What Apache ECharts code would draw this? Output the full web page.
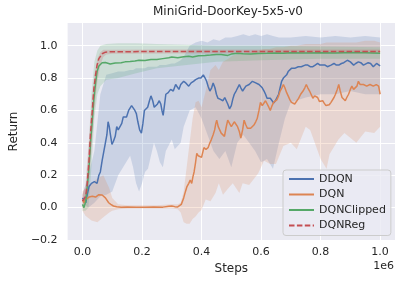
<!DOCTYPE html>
<html><head><meta charset="utf-8">
<script src="https://cdn.jsdelivr.net/npm/echarts@6/dist/echarts.min.js"></script>
<style>html,body{margin:0;padding:0;background:#fff}#c{width:408px;height:284px}</style>
</head><body><div id="c"></div>
<script>
// ---- Data (steps in units of 1e6) ----
const titleText = 'MiniGrid-DoorKey-5x5-v0';
const seriesNames = ['DDQN', 'DQN', 'DQNClipped', 'DQNReg'];
const xTicks = [0, 0.2, 0.4, 0.6, 0.8, 1.0];
const yTicks = [-0.2, 0, 0.2, 0.4, 0.6, 0.8, 1.0];

const ddqnX = [0,0.006,0.011,0.016,0.022,0.03,0.04,0.049,0.055,0.06,0.066,0.072,0.077,0.082,0.086,0.09,0.093,0.099,0.104,0.11,0.115,0.12,0.126,0.132,0.137,0.143,0.148,0.155,0.16,0.165,0.17,0.176,0.181,0.186,0.192,0.198,0.203,0.208,0.214,0.219,0.225,0.23,0.236,0.241,0.247,0.252,0.258,0.263,0.267,0.271,0.276,0.28,0.288,0.296,0.305,0.313,0.318,0.324,0.33,0.34,0.347,0.357,0.365,0.373,0.38,0.39,0.398,0.406,0.412,0.417,0.422,0.428,0.434,0.439,0.445,0.45,0.455,0.462,0.466,0.472,0.478,0.483,0.488,0.494,0.5,0.505,0.51,0.516,0.521,0.527,0.532,0.538,0.543,0.549,0.554,0.56,0.565,0.571,0.576,0.582,0.587,0.593,0.598,0.604,0.61,0.615,0.62,0.626,0.631,0.637,0.642,0.648,0.653,0.659,0.664,0.669,0.675,0.68,0.686,0.691,0.697,0.702,0.708,0.713,0.719,0.725,0.73,0.735,0.741,0.748,0.757,0.765,0.774,0.782,0.79,0.798,0.807,0.815,0.823,0.828,0.835,0.845,0.853,0.861,0.87,0.878,0.883,0.89,0.894,0.9,0.905,0.911,0.918,0.927,0.935,0.944,0.95,0.96,0.968,0.977,0.983,0.988,0.994,1.0];
const ddqnY = [0.06,0.05,0.03,0.08,0.13,0.15,0.16,0.15,0.2,0.22,0.29,0.35,0.40,0.45,0.53,0.5,0.46,0.39,0.41,0.44,0.5,0.48,0.47,0.52,0.56,0.55,0.56,0.6,0.61,0.63,0.62,0.6,0.58,0.53,0.48,0.46,0.52,0.6,0.6,0.62,0.66,0.69,0.66,0.62,0.63,0.64,0.66,0.64,0.6,0.57,0.64,0.70,0.71,0.73,0.72,0.76,0.75,0.73,0.76,0.78,0.77,0.75,0.77,0.78,0.79,0.80,0.80,0.82,0.80,0.78,0.75,0.72,0.74,0.77,0.74,0.70,0.675,0.67,0.66,0.66,0.68,0.675,0.64,0.61,0.63,0.67,0.70,0.72,0.73,0.76,0.74,0.72,0.73,0.75,0.75,0.76,0.77,0.78,0.78,0.77,0.76,0.76,0.75,0.74,0.72,0.70,0.675,0.68,0.675,0.66,0.645,0.66,0.66,0.70,0.74,0.78,0.80,0.81,0.82,0.84,0.85,0.86,0.85,0.86,0.86,0.87,0.86,0.87,0.87,0.88,0.88,0.87,0.87,0.88,0.89,0.88,0.88,0.88,0.87,0.86,0.88,0.89,0.88,0.88,0.89,0.895,0.90,0.91,0.915,0.90,0.89,0.88,0.89,0.90,0.895,0.88,0.89,0.895,0.89,0.87,0.88,0.89,0.88,0.875];

const dqnX = [0,0.005,0.01,0.016,0.022,0.033,0.044,0.05,0.055,0.06,0.066,0.072,0.077,0.083,0.088,0.095,0.104,0.115,0.13,0.15,0.18,0.21,0.24,0.27,0.29,0.3,0.31,0.32,0.326,0.332,0.34,0.346,0.351,0.357,0.362,0.367,0.371,0.375,0.38,0.384,0.389,0.395,0.4,0.404,0.408,0.415,0.422,0.428,0.433,0.439,0.444,0.448,0.451,0.456,0.461,0.466,0.472,0.477,0.482,0.488,0.494,0.5,0.505,0.51,0.516,0.521,0.527,0.532,0.538,0.543,0.549,0.554,0.56,0.565,0.571,0.576,0.582,0.587,0.593,0.598,0.604,0.609,0.615,0.62,0.626,0.631,0.637,0.642,0.648,0.653,0.659,0.664,0.67,0.675,0.68,0.686,0.691,0.697,0.702,0.708,0.713,0.719,0.726,0.733,0.741,0.747,0.752,0.757,0.763,0.768,0.774,0.78,0.785,0.79,0.796,0.801,0.807,0.812,0.818,0.823,0.829,0.835,0.84,0.845,0.85,0.856,0.861,0.866,0.872,0.877,0.883,0.888,0.894,0.9,0.905,0.911,0.916,0.922,0.927,0.933,0.938,0.944,0.949,0.955,0.96,0.966,0.971,0.977,0.982,0.987,0.991,0.995,1.0];
const dqnY = [0.05,0.03,0.05,0.06,0.065,0.07,0.065,0.075,0.08,0.075,0.078,0.07,0.06,0.05,0.03,0.02,0.01,0.005,0.002,0.004,0.003,0.002,0.004,0.003,0.008,0.01,0.006,0.004,0.008,0.02,0.06,0.1,0.13,0.15,0.17,0.15,0.19,0.22,0.28,0.335,0.32,0.33,0.31,0.30,0.37,0.36,0.37,0.40,0.42,0.45,0.48,0.52,0.54,0.50,0.48,0.46,0.47,0.44,0.49,0.54,0.52,0.50,0.51,0.53,0.53,0.50,0.47,0.43,0.48,0.54,0.51,0.49,0.50,0.49,0.50,0.51,0.53,0.55,0.60,0.65,0.63,0.64,0.66,0.65,0.62,0.60,0.63,0.65,0.64,0.665,0.69,0.72,0.74,0.76,0.74,0.71,0.69,0.665,0.65,0.64,0.64,0.63,0.675,0.70,0.72,0.74,0.76,0.74,0.72,0.70,0.675,0.69,0.70,0.68,0.655,0.66,0.66,0.645,0.63,0.64,0.635,0.65,0.66,0.68,0.70,0.73,0.76,0.72,0.68,0.67,0.66,0.68,0.70,0.73,0.75,0.73,0.72,0.75,0.78,0.76,0.75,0.76,0.765,0.75,0.74,0.76,0.77,0.75,0.74,0.76,0.77,0.75,0.70];

const clipX = [0,0.005,0.011,0.016,0.022,0.027,0.033,0.038,0.044,0.049,0.055,0.066,0.077,0.093,0.11,0.13,0.143,0.16,0.176,0.19,0.21,0.23,0.25,0.27,0.29,0.30,0.32,0.34,0.357,0.37,0.39,0.412,0.43,0.45,0.466,0.488,0.5,0.521,0.54,0.565,0.59,0.62,0.65,0.675,0.7,0.75,0.8,0.85,0.9,0.95,1.0];
const clipY = [0.02,0.0,0.04,0.13,0.25,0.40,0.54,0.665,0.77,0.84,0.875,0.895,0.896,0.887,0.893,0.895,0.9,0.902,0.905,0.91,0.908,0.915,0.915,0.92,0.925,0.93,0.925,0.932,0.935,0.93,0.938,0.94,0.942,0.945,0.945,0.94,0.948,0.953,0.95,0.948,0.952,0.953,0.955,0.953,0.956,0.955,0.957,0.955,0.958,0.956,0.953];

const regX = [0,0.005,0.011,0.016,0.022,0.027,0.033,0.038,0.044,0.049,0.055,0.066,0.077,0.1,0.15,0.3,0.5,0.7,1.0];
const regY = [0.04,0.03,0.07,0.15,0.29,0.46,0.60,0.73,0.82,0.88,0.92,0.95,0.96,0.963,0.963,0.964,0.964,0.964,0.964];

// shaded bands (mean ± spread)
const ddqnBandX = [0,0.02,0.04,0.06,0.08,0.1,0.12,0.14,0.16,0.17,0.18,0.19,0.2,0.21,0.22,0.24,0.25,0.26,0.27,0.28,0.3,0.31,0.33,0.34,0.36,0.38,0.4,0.42,0.44,0.46,0.48,0.5,0.52,0.54,0.56,0.58,0.6,0.62,0.64,0.66,0.68,0.7,0.75,0.8,0.85,0.9,0.95,1.0];
const ddqnHigh = [0.08,0.2,0.35,0.7,0.82,0.83,0.84,0.84,0.85,0.85,0.86,0.86,0.86,0.86,0.87,0.87,0.87,0.88,0.88,0.88,0.89,0.89,0.91,0.93,1.0,1.02,1.03,1.02,1.04,1.03,1.05,1.05,1.06,1.07,1.06,1.07,1.06,1.07,1.06,1.05,1.05,1.05,1.06,1.05,1.06,1.05,1.06,1.05];
const ddqnLow = [0.03,0.0,0.03,0.07,0.08,0.1,0.2,0.26,0.32,0.25,0.15,0.1,0.15,0.22,0.24,0.4,0.35,0.28,0.25,0.35,0.42,0.36,0.4,0.5,0.6,0.62,0.55,0.45,0.35,0.3,0.35,0.25,0.4,0.45,0.4,0.35,0.28,0.3,0.24,0.4,0.55,0.65,0.68,0.7,0.7,0.72,0.7,0.7];

const dqnBandX = [0,0.01,0.03,0.05,0.07,0.09,0.1,0.12,0.15,0.2,0.25,0.3,0.32,0.33,0.34,0.35,0.36,0.37,0.38,0.39,0.4,0.414,0.43,0.447,0.458,0.472,0.49,0.505,0.527,0.538,0.56,0.59,0.61,0.63,0.65,0.675,0.7,0.72,0.75,0.765,0.8,0.82,0.83,0.86,0.88,0.92,0.95,0.98,1.0];
const dqnHigh = [0.1,0.12,0.15,0.18,0.2,0.12,0.06,0.02,0.015,0.015,0.015,0.02,0.02,0.03,0.1,0.25,0.4,0.55,0.65,0.66,0.62,0.72,0.85,0.88,0.85,0.9,0.92,0.94,0.95,0.95,0.96,0.97,0.98,0.98,0.99,0.99,1.0,1.0,1.01,1.01,1.01,1.02,1.02,1.02,1.02,1.02,1.03,1.03,1.02];
const dqnLow = [-0.02,-0.05,-0.08,-0.09,-0.06,-0.03,-0.02,-0.01,-0.005,-0.005,-0.005,-0.005,-0.01,-0.03,-0.09,-0.1,-0.1,-0.07,-0.055,-0.03,-0.015,0.05,0.04,0.09,0.15,0.08,0.12,0.15,0.09,0.15,0.14,0.21,0.29,0.27,0.27,0.38,0.4,0.36,0.5,0.48,0.3,0.24,0.33,0.42,0.46,0.4,0.47,0.46,0.5];

const clipBandX = [0,0.01,0.02,0.03,0.04,0.05,0.06,0.08,0.12,0.18,0.25,0.35,0.45,0.6,0.8,1.0];
const clipHigh = [0.05,0.08,0.35,0.7,0.9,0.97,1.0,1.01,1.015,1.015,1.01,1.005,1.0,1.0,0.995,0.99];
const clipLow = [-0.02,-0.02,0.0,0.25,0.55,0.7,0.75,0.79,0.8,0.83,0.86,0.88,0.9,0.91,0.92,0.92];

const regBandX = [0,0.01,0.02,0.03,0.04,0.05,0.06,0.07,0.08,0.1,0.3,0.6,1.0];
const regHigh = [0.08,0.14,0.38,0.62,0.82,0.92,0.96,0.975,0.975,0.975,0.976,0.976,0.976];
const regLow = [0.0,0.02,0.12,0.35,0.6,0.78,0.88,0.93,0.945,0.95,0.952,0.952,0.952];

const colors = ['#4C72B0', '#DD8452', '#55A868', '#C44E52'];
const bandColors = ['rgba(76,114,176,0.2)', 'rgba(221,132,82,0.2)', 'rgba(85,168,104,0.2)', 'rgba(196,78,82,0.2)'];

// ---- build ----
const zip = (xs, ys) => xs.map((x, i) => [x, ys[i]]);
const lines = [[ddqnX, ddqnY], [dqnX, dqnY], [clipX, clipY], [regX, regY]];
const bands = [[ddqnBandX, ddqnHigh, ddqnLow], [dqnBandX, dqnHigh, dqnLow], [clipBandX, clipHigh, clipLow], [regBandX, regHigh, regLow]];

function bandSeries(idx) {
  const [bx, hi, lo] = bands[idx];
  return {
    type: 'custom', silent: true, z: 1, clip: true,
    data: [[bx[0], lo[0]]],
    renderItem: function (params, api) {
      const pts = [];
      for (let i = 0; i < bx.length; i++) pts.push(api.coord([bx[i], hi[i]]));
      for (let i = bx.length - 1; i >= 0; i--) pts.push(api.coord([bx[i], lo[i]]));
      return { type: 'polygon', shape: { points: pts }, style: { fill: bandColors[idx] } };
    }
  };
}

const series = [];
for (let i = 0; i < 4; i++) series.push(bandSeries(i));
for (let i = 0; i < 4; i++) {
  series.push({
    name: seriesNames[i], type: 'line', data: zip(lines[i][0], lines[i][1]),
    symbol: 'none', showSymbol: false, z: 3,
    lineStyle: { color: colors[i], width: 1.5, type: i === 3 ? [5.5, 2.4] : 'solid' },
    itemStyle: { color: colors[i] }
  });
}

const font = 'DejaVu Sans';
const txt = '#262626';
const fmt = v => (v < 0 ? '\u2212' : '') + Math.abs(v).toFixed(1);

const chart = echarts.init(document.getElementById('c'), null, { renderer: 'canvas' });
chart.setOption({
  backgroundColor: '#ffffff',
  animation: false,
  textStyle: { fontFamily: font },
  title: [
    { text: titleText, left: 228, top: 6, padding: 0, textAlign: 'center',
      textStyle: { fontFamily: font, fontSize: 12, fontWeight: 'normal', color: txt } },
    { text: '1e6', right: 14, top: 261, padding: 0,
      textStyle: { fontFamily: font, fontSize: 11, fontWeight: 'normal', color: txt } }
  ],
  grid: { left: 61, right: 13, top: 23, bottom: 44, show: true, backgroundColor: '#EAEAF2', borderWidth: 0 },
  xAxis: {
    type: 'value', min: -0.05, max: 1.05,
    name: 'Steps', nameLocation: 'middle', nameGap: 22,
    nameTextStyle: { fontFamily: font, fontSize: 12, color: txt },
    axisLine: { show: false },
    axisTick: { show: false, customValues: xTicks },
    axisLabel: { customValues: xTicks, formatter: fmt, margin: 7, fontFamily: font, fontSize: 11, color: txt },
    splitLine: { show: true, lineStyle: { color: '#ffffff', width: 1 } }
  },
  yAxis: {
    type: 'value', min: -0.2, max: 1.14,
    name: 'Return', nameLocation: 'middle', nameGap: 42,
    nameTextStyle: { fontFamily: font, fontSize: 12, color: txt },
    axisLine: { show: false },
    axisTick: { show: false, customValues: yTicks },
    axisLabel: { customValues: yTicks, formatter: fmt, margin: 10, fontFamily: font, fontSize: 11, color: txt },
    splitLine: { show: true, lineStyle: { color: '#ffffff', width: 1 } }
  },
  legend: {
    data: seriesNames, orient: 'vertical', left: 283, top: 170,
    itemWidth: 25, itemHeight: 10, itemGap: 1.5,
    padding: [2, 5, 3, 5],
    itemStyle: { color: 'transparent', borderColor: 'transparent', borderWidth: 0, opacity: 0 },
    backgroundColor: 'rgba(234,234,242,0.8)', borderColor: '#cccccc', borderWidth: 1, borderRadius: 3,
    textStyle: { fontFamily: font, fontSize: 11, color: txt, lineHeight: 14 }
  },
  series: series
});
</script></body></html>
